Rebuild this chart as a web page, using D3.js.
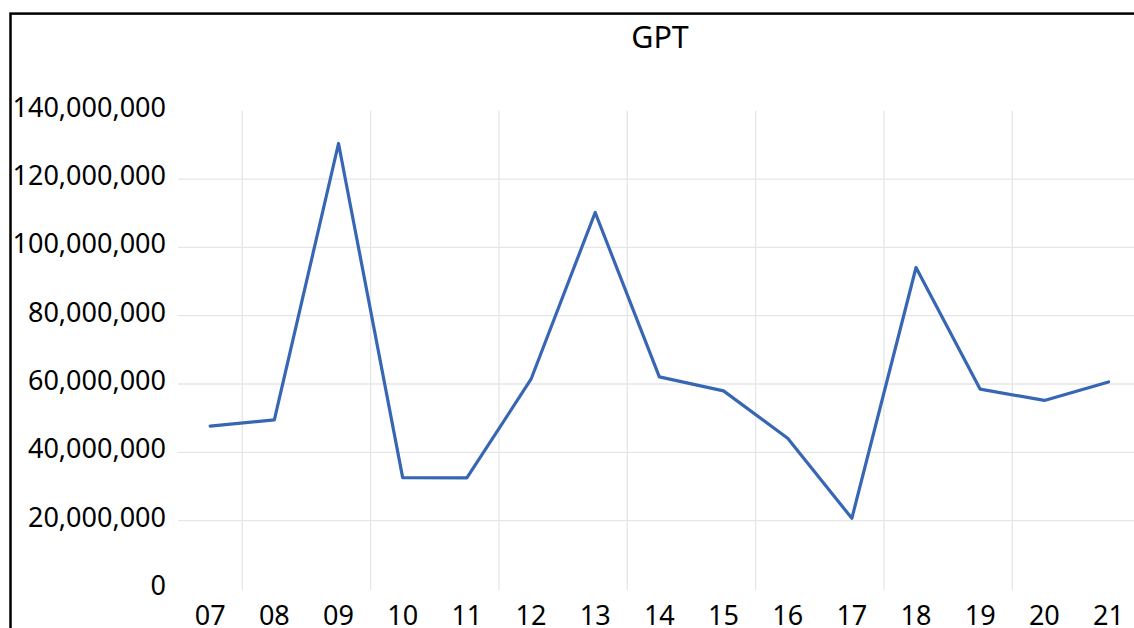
<!DOCTYPE html>
<html>
<head>
<meta charset="utf-8">
<script src="https://cdn.jsdelivr.net/npm/d3@7"></script>
<style>
  html, body { margin: 0; padding: 0; background: #fff; overflow: hidden; }
  svg { display: block; }
</style>
</head>
<body>
<svg id="chart" width="1134" height="628"></svg>
<script>
const title = "GPT";
const categories = ["07","08","09","10","11","12","13","14","15","16","17","18","19","20","21"];
const values = [47.7e6, 49.5e6, 130.4e6, 32.6e6, 32.5e6, 61.4e6, 110.2e6, 62.1e6, 58.0e6, 44.1e6, 20.7e6, 94.1e6, 58.5e6, 55.2e6, 60.6e6];
const yTicks = [0, 20e6, 40e6, 60e6, 80e6, 100e6, 120e6, 140e6];
const yGrid = [20e6, 40e6, 60e6, 80e6, 100e6, 120e6];

const FONT = "'Noto Sans', 'Open Sans', sans-serif";
const svg = d3.select("#chart");

const x = d3.scaleBand().domain(categories).range([178.1, 1140.6]).padding(0);
const y = d3.scaleLinear().domain([0, 140e6]).range([589, 110.7]);

// chart border
svg.append("rect")
  .attr("x", 10.5).attr("y", 13.6)
  .attr("width", 1200).attr("height", 700)
  .attr("fill", "#fff").attr("stroke", "#000").attr("stroke-width", 2.5);

// horizontal gridlines
svg.append("g").selectAll("line").data(yGrid).join("line")
  .attr("x1", x.range()[0]).attr("x2", x.range()[1])
  .attr("y1", d => y(d)).attr("y2", d => y(d))
  .attr("stroke", "#e6e6e6").attr("stroke-width", 1.3);

// vertical gridlines at every second category boundary
const vEdges = categories.filter((c, i) => i % 2 === 1).map(c => x(c));
svg.append("g").selectAll("line").data(vEdges).join("line")
  .attr("x1", d => d).attr("x2", d => d)
  .attr("y1", y(140e6)).attr("y2", y(0) + 1)
  .attr("stroke", "#e6e6e6").attr("stroke-width", 1.3);

// y axis labels
const yAxis = svg.append("g")
  .attr("transform", "translate(166,0)")
  .call(d3.axisLeft(y).tickValues(yTicks).tickFormat(d3.format(",")).tickSize(0).tickPadding(0));
yAxis.select(".domain").remove();
yAxis.selectAll("text")
  .attr("dy", 5.5)
  .attr("font-family", FONT).attr("font-size", 27).attr("fill", "#000");

// x axis labels
const xAxis = svg.append("g")
  .attr("transform", "translate(0,0)")
  .call(d3.axisBottom(x).tickSize(0).tickPadding(0));
xAxis.select(".domain").remove();
xAxis.selectAll("text")
  .attr("y", 624.5).attr("dy", 0)
  .attr("font-family", FONT).attr("font-size", 27).attr("fill", "#000");

// line
const line = d3.line()
  .x((d, i) => x(categories[i]) + x.bandwidth() / 2)
  .y(d => y(d));
svg.append("path")
  .datum(values)
  .attr("d", line)
  .attr("fill", "none")
  .attr("stroke", "#3766b4")
  .attr("stroke-width", 3.2)
  .attr("stroke-linejoin", "round")
  .attr("stroke-linecap", "round");

// title
svg.append("text")
  .attr("x", 660).attr("y", 48.3)
  .attr("text-anchor", "middle")
  .attr("font-family", FONT).attr("font-size", 30.5).attr("fill", "#000")
  .text(title);
</script>
</body>
</html>
